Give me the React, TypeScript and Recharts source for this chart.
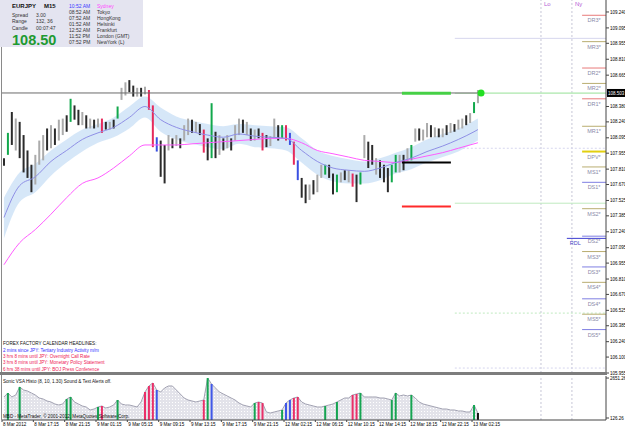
import React from 'react';
import { ComposedChart, Bar, Line, Area, XAxis, YAxis, ReferenceLine, ReferenceDot, Cell } from 'recharts';

const FONT = '"Liberation Sans", Arial, sans-serif';

// EURJPY bars (high / low)
const barHigh = [
  107.91, 108.14, 108.33, 108.27, 108.24, 108.12, 107.98, 107.85, 107.94, 108.07,
  108.12, 108.18, 108.21, 108.18, 108.26, 108.27, 108.30, 108.45, 108.39, 108.35,
  108.33, 108.30, 108.27, 108.26, 108.27, 108.27, 108.24, 108.24, 108.26, 108.38,
  108.55, 108.60, 108.62, 108.57, 108.55, 108.55, 108.56, 108.53, 108.39, 108.10,
  108.07, 108.03, 108.12, 108.09, 108.12, 108.09, 108.21, 108.27, 108.26, 108.24,
  108.22, 108.17, 108.09, 108.41, 108.15, 108.12, 108.09, 108.12, 108.09, 108.21,
  108.27, 108.26, 108.24, 108.18, 108.17, 108.18, 108.14, 108.12, 108.11, 108.27,
  108.21, 108.21, 108.21, 108.14, 108.06, 107.89, 107.73, 107.67, 107.67, 107.71,
  107.76, 107.85, 107.85, 107.85, 107.77, 107.76, 107.78, 107.80, 107.80, 107.77,
  107.76, 107.78, 108.12, 108.06, 108.03, 107.91, 107.89, 107.85, 107.82, 107.85,
  107.94, 107.94, 107.94, 108.00, 108.03, 108.18, 108.18, 108.17, 108.23, 108.21,
  108.19, 108.18, 108.18, 108.21, 108.23, 108.22, 108.26, 108.27, 108.30, 108.32,
  108.42, 108.53,
];
const barLow = [
  107.84, 107.94, 108.03, 107.98, 107.91, 107.78, 107.73, 107.60, 107.67, 107.85,
  107.89, 107.98, 108.00, 108.03, 108.07, 108.12, 108.15, 108.24, 108.26, 108.21,
  108.21, 108.18, 108.18, 108.18, 108.19, 108.14, 108.17, 108.17, 108.18, 108.27,
  108.44, 108.48, 108.51, 108.47, 108.47, 108.47, 108.49, 108.35, 108.01, 107.97,
  107.74, 107.68, 107.98, 108.00, 108.02, 108.00, 108.07, 108.12, 108.14, 108.14,
  108.12, 107.96, 107.89, 107.91, 107.91, 107.94, 107.98, 108.00, 107.98, 108.07,
  108.12, 108.14, 108.12, 108.07, 108.07, 108.09, 107.98, 108.01, 108.02, 108.09,
  108.07, 108.09, 108.07, 108.03, 107.85, 107.71, 107.55, 107.50, 107.53, 107.58,
  107.60, 107.73, 107.76, 107.73, 107.58, 107.60, 107.69, 107.71, 107.69, 107.65,
  107.51, 107.67, 107.91, 107.82, 107.85, 107.76, 107.73, 107.69, 107.60, 107.69,
  107.78, 107.78, 107.80, 107.88, 107.89, 108.06, 108.07, 108.07, 108.10, 108.10,
  108.10, 108.10, 108.10, 108.12, 108.14, 108.15, 108.17, 108.18, 108.21, 108.23,
  108.32, 108.41,
];
// k = down bar, w = up bar, G / R / B = highlighted bars
const barTone =
  'kGkwkkkkww' + 'wkwkwwkGkk' + 'wkwkwRkwkG' + 'wwkkwkwRRB' + 'kkwkwkwwkw' + 'kRkGkwkwkw' +
  'wkwkwkRkww' + 'kGRBRBkkwk' + 'wwGkkGwkwR' + 'kGwkkwkkkG' + 'GwkwGwkwwk' + 'wkwkwkwwkw' + 'Gw';

// moving averages and envelope, read every 4th bar
const maBars = [0, 4, 8, 12, 16, 20, 24, 28, 32, 36, 40, 44, 48, 52, 56, 60, 64, 68, 72, 76, 80, 84, 88, 92, 96, 100, 104, 108, 112, 116, 120, 121];
const maFast = [
  107.37, 107.66, 107.74, 107.88, 107.98, 108.08, 108.14, 108.19, 108.28, 108.38, 108.26, 108.19, 108.15, 108.12, 108.10, 108.13,
  108.11, 108.10, 108.09, 107.98, 107.88, 107.82, 107.80, 107.79, 107.82, 107.87, 107.91, 107.97, 108.02, 108.08, 108.15, 108.17,
];
const bandTop = [
  107.55, 107.78, 107.86, 107.98, 108.08, 108.17, 108.22, 108.28, 108.38, 108.47, 108.37, 108.29, 108.25, 108.22, 108.20, 108.22,
  108.21, 108.20, 108.19, 108.09, 107.98, 107.93, 107.90, 107.88, 107.91, 107.96, 108.01, 108.08, 108.13, 108.18, 108.25, 108.27,
];
const bandBottom = [
  107.18, 107.51, 107.60, 107.75, 107.87, 107.97, 108.05, 108.10, 108.18, 108.28, 108.15, 108.08, 108.04, 108.01, 107.99, 108.04,
  108.01, 108.00, 107.98, 107.87, 107.76, 107.70, 107.68, 107.68, 107.71, 107.77, 107.81, 107.87, 107.92, 107.97, 108.05, 108.07,
];
const maSlow = [
  106.94, 107.14, 107.26, 107.40, 107.55, 107.68, 107.73, 107.82, 107.93, 108.03, 108.03, 108.03, 108.04, 108.05, 108.06, 108.07,
  108.08, 108.09, 108.09, 108.05, 107.98, 107.95, 107.92, 107.89, 107.88, 107.87, 107.90, 107.93, 107.96, 108.00, 108.04, 108.05,
];

// Sonic VSA histogram
const vsaVolume = [
  1454, 1706, 1454, 1580, 2086, 1896, 1833, 1706, 1580, 1390,
  1327, 1201, 1138, 1011, 948, 1011, 1327, 1454, 1138, 1011,
  885, 822, 632, 695, 822, 885, 758, 822, 948, 1264,
  1011, 948, 948, 885, 822, 1138, 1770, 2149, 2338, 1896,
  1770, 2022, 2149, 2149, 1896, 1643, 1390, 1264, 1201, 1138,
  1201, 1264, 2651, 2275, 2022, 1770, 1643, 1517, 1390, 1264,
  1074, 948, 885, 822, 1074, 1138, 1074, 506, 442, 506,
  569, 632, 1074, 1264, 1390, 1454, 1138, 1011, 948, 885,
  822, 822, 885, 948, 1011, 1138, 1264, 1390, 1390, 1580,
  1643, 1706, 1454, 1454, 1454, 1454, 1390, 1390, 1327, 1264,
  1706, 1517, 1580, 1517, 1580, 1390, 1138, 1011, 948, 885,
  822, 758, 695, 695, 632, 632, 569, 569, 506, 506,
  948, 442,
];
const vsaTone =
  '.G..G.....' + '......GG..' + '....GR...G' + '......RRRB' + '..........' + '.RGB......' +
  '....GRR...' + '.GBBRR....' + '..G..G...R' + 'RG.......G' + 'G...G.....' + '..........' + 'Gk';

// 108.525 sits under the bid box, so it is left out
const priceTicks = [
  109.24, 109.095, 108.955, 108.81, 108.665, 108.38, 108.24, 108.095, 107.955, 107.81, 107.67,
  107.525, 107.385, 107.24, 107.095, 106.955, 106.81, 106.67, 106.525, 106.385, 106.24, 106.1, 105.955,
];
const vsaTicks = [126.26, 2651.26];
const timeTickBars = [0, 8, 16, 24, 32, 40, 48, 56, 64, 72, 80, 88, 96, 104, 112, 120];
const timeLabels = [
  '8 Mar 2012', '8 Mar 17:15', '8 Mar 21:15', '9 Mar 01:15', '9 Mar 05:15', '9 Mar 09:15', '9 Mar 13:15', '9 Mar 17:15',
  '9 Mar 21:15', '12 Mar 02:15', '12 Mar 06:15', '12 Mar 10:15', '12 Mar 14:15', '12 Mar 18:15', '12 Mar 22:15', '13 Mar 02:15',
];

const pivotNames = ['DR3*', 'MR3*', 'DR2*', 'MR2*', 'DR1*', 'MR1*', 'DPV*', 'MS1*', 'DS1*', 'MS2*', 'DS2*', 'MS3*', 'DS3*', 'MS4*', 'DS4*', 'MS5*', 'DS5*'];
const pivotPrices = [109.21, 108.97, 108.73, 108.59, 108.45, 108.2, 107.97, 107.83, 107.69, 107.45, 107.2, 107.06, 106.92, 106.78, 106.63, 106.49, 106.35];
const rdlPrice = 107.18;
const roundLevels = [109.0, 108.5, 108.0, 107.5, 106.5, 106.0];
const roundGreen = [false, true, false, true, true, false];
const roundDotted = [false, false, true, false, true, true];
const sessionNames = ['Lo', 'Ny'];
const sessionBars = [137.6, 145.5];
const bidPrice = 108.503;
const signalLevels = [108.5, 107.87, 107.47];
const signalColors = ['#46d046', '#000000', '#ff2a2a'];

const sessions = [
  { time: '10:52 AM', city: 'Sydney' },
  { time: '08:52 AM', city: 'Tokyo' },
  { time: '07:52 AM', city: 'HongKong' },
  { time: '01:52 AM', city: 'Helsinki' },
  { time: '12:52 AM', city: 'Frankfurt' },
  { time: '11:52 PM', city: 'London (GMT)' },
  { time: '07:52 PM', city: 'NewYork (L)' },
];
const headlines = [
  '2 mins since JPY: Tertiary Industry Activity m/m',
  '3 hrs 8 mins until JPY: Overnight Call Rate',
  '3 hrs 8 mins until JPY: Monetary Policy Statement',
  '6 hrs 38 mins until JPY: BOJ Press Conference',
];

// layout in bar units
const X_MAX = 154.2;
const NOW = 122.3;
const DAY_START = 115.6;
const PIVOT_FROM = 148.1;
const RDL_FROM = 144.2;
const SIGNAL_FROM = 102.1;
const SIGNAL_TO = 114.6;

const toneColor: Record<string, string> = { k: '#2b2b2b', w: '#ababab', G: '#12a84c', R: '#e62a5c', B: '#3a50e2' };
const vsaColor: Record<string, string> = { k: '#111111', G: '#16a452', R: '#ea2f68', B: '#4058e8' };

const rows = barHigh.map((h, i) => {
  const k = maBars.indexOf(i);
  return {
    u: i + 0.5,
    hl: [barLow[i], h],
    fast: k >= 0 ? maFast[k] : null,
    slow: k >= 0 ? maSlow[k] : null,
    band: k >= 0 ? [bandBottom[k], bandTop[k]] : null,
    vol: vsaVolume[i],
    hit: vsaTone[i] !== '.' ? vsaVolume[i] : null,
  };
});

const pivotColor = (name: string) => {
  if (name.startsWith('DR')) return '#e87a7a';
  if (name.startsWith('DS')) return '#7f7fe2';
  if (name.startsWith('DPV')) return '#e2cf10';
  return '#b9ad70';
};

const PivotLabel = ({ viewBox, text }: any) => (
  <text x={viewBox.x + viewBox.width / 2} y={viewBox.y + 7} textAnchor="middle" fontSize={5.5} fill="#8a8aa8" fontFamily={FONT}>
    {text}
  </text>
);

const RdlLabel = ({ viewBox }: any) => (
  <text x={viewBox.x + 3} y={viewBox.y + 7} fontSize={5.5} fill="#4444c4" fontFamily={FONT}>
    RDL
  </text>
);

const SessionLabel = ({ viewBox, text }: any) => (
  <text x={viewBox.x + 3} y={viewBox.y + 6} fontSize={6} fill="#b45cd6" fontFamily={FONT}>
    {text}
  </text>
);

const BidLabel = ({ viewBox }: any) => (
  <g>
    <rect x={viewBox.x + viewBox.width + 1} y={viewBox.y - 4} width={19} height={8} fill="#000" />
    <text x={viewBox.x + viewBox.width + 2} y={viewBox.y + 2} fontSize={4.5} fill="#fff" fontFamily={FONT}>
      {bidPrice.toFixed(3)}
    </text>
  </g>
);

const TimeTick = ({ x, y, payload }: any) => (
  <text x={x + 1} y={y + 3.6} fontSize={4.6} fill="#000" fontFamily={FONT}>
    {timeLabels[timeTickBars.indexOf(payload.value)]}
  </text>
);

const axisTick = { fontSize: 4.5, fill: '#000', fontFamily: FONT };

export default function App() {
  return (
    <div style={{ position: 'fixed', left: 0, top: 0, width: 625, height: 429, background: '#fff', overflow: 'hidden' }}>
      <div style={{ position: 'absolute', left: 0, top: 0 }}>
        <ComposedChart width={625} height={378} data={rows} margin={{ top: 0, right: 0, bottom: 5, left: 2 }}>
          <XAxis dataKey="u" type="number" domain={[0, X_MAX]} allowDataOverflow hide />
          <YAxis
            orientation="right"
            width={19}
            domain={[105.955, 109.349]}
            allowDataOverflow
            ticks={priceTicks}
            interval={0}
            tickFormatter={(v: number) => v.toFixed(3)}
            tick={axisTick}
            tickSize={3}
            tickMargin={1}
            axisLine={{ stroke: '#444' }}
            tickLine={{ stroke: '#444' }}
          />
          {sessionBars.map((b, i) => (
            <ReferenceLine key={sessionNames[i]} x={b} stroke="#c6c6d6" strokeDasharray="2 2" label={<SessionLabel text={sessionNames[i]} />} />
          ))}
          {roundLevels.map((p, i) => (
            <ReferenceLine
              key={'r' + p}
              segment={[{ x: DAY_START, y: p }, { x: X_MAX, y: p }]}
              stroke={roundGreen[i] ? '#bfeabf' : '#d6d6ee'}
              strokeDasharray={roundDotted[i] ? '2 2' : undefined}
            />
          ))}
          <Area dataKey="band" type="monotone" connectNulls fill="#cfe3f7" fillOpacity={0.85} stroke="none" isAnimationActive={false} />
          <Line dataKey="slow" type="monotone" connectNulls stroke="#ff5cff" strokeWidth={1} dot={false} isAnimationActive={false} />
          <Line dataKey="fast" type="monotone" connectNulls stroke="#8f8fe6" strokeWidth={1} dot={false} isAnimationActive={false} />
          <ReferenceLine segment={[{ x: 0, y: bidPrice }, { x: NOW, y: bidPrice }]} stroke="#6a6a6a" />
          <Bar dataKey="hl" barSize={2} isAnimationActive={false}>
            {rows.map((r, i) => (
              <Cell key={i} fill={toneColor[barTone[i]]} />
            ))}
          </Bar>
          <ReferenceLine segment={[{ x: NOW, y: bidPrice }, { x: X_MAX, y: bidPrice }]} stroke="#b8ecb8" label={<BidLabel />} />
          {signalLevels.map((p, i) => (
            <ReferenceLine
              key={'s' + p}
              segment={[{ x: SIGNAL_FROM, y: p }, { x: SIGNAL_TO, y: p }]}
              stroke={signalColors[i]}
              strokeWidth={i === 0 ? 3 : 2}
            />
          ))}
          {pivotNames.map((n, i) => (
            <ReferenceLine
              key={n}
              segment={[{ x: PIVOT_FROM, y: pivotPrices[i] }, { x: X_MAX, y: pivotPrices[i] }]}
              stroke={pivotColor(n)}
              strokeWidth={n === 'DPV*' ? 2 : 1}
              label={<PivotLabel text={n} />}
            />
          ))}
          <ReferenceLine segment={[{ x: RDL_FROM, y: rdlPrice }, { x: X_MAX, y: rdlPrice }]} stroke="#3c3cd0" label={<RdlLabel />} />
          <ReferenceDot x={NOW} y={bidPrice} r={3.5} fill="#22e022" stroke="none" />
        </ComposedChart>
      </div>

      <div style={{ position: 'absolute', left: 0, top: 374 }}>
        <ComposedChart width={625} height={55} data={rows} margin={{ top: 2, right: 0, bottom: 0, left: 2 }}>
          <defs>
            <pattern id="vsaDots" width="3" height="3" patternUnits="userSpaceOnUse">
              <rect width="3" height="3" fill="#e3e3ea" />
              <rect x="1" y="1" width="1" height="1" fill="#ffffff" />
            </pattern>
          </defs>
          <XAxis
            dataKey="u"
            type="number"
            domain={[0, X_MAX]}
            allowDataOverflow
            ticks={timeTickBars}
            interval={0}
            height={9}
            tick={<TimeTick />}
            tickSize={2}
            tickMargin={0}
            axisLine={{ stroke: '#444' }}
            tickLine={{ stroke: '#444' }}
          />
          <YAxis
            orientation="right"
            width={19}
            domain={[0, 2780]}
            allowDataOverflow
            ticks={vsaTicks}
            interval={0}
            tickFormatter={(v: number) => v.toFixed(2)}
            tick={axisTick}
            tickSize={3}
            tickMargin={1}
            axisLine={{ stroke: '#444' }}
            tickLine={{ stroke: '#444' }}
          />
          {sessionBars.map((b) => (
            <ReferenceLine key={'v' + b} x={b} stroke="#c6c6d6" strokeDasharray="2 2" />
          ))}
          <Area dataKey="vol" type="linear" fill="url(#vsaDots)" fillOpacity={1} stroke="#a2a2b2" strokeWidth={1} isAnimationActive={false} />
          <Bar dataKey="hit" barSize={2} isAnimationActive={false}>
            {rows.map((r, i) => (
              <Cell key={i} fill={vsaColor[vsaTone[i]] || 'none'} />
            ))}
          </Bar>
        </ComposedChart>
      </div>

      <svg width={625} height={429} style={{ position: 'absolute', left: 0, top: 0, pointerEvents: 'none' }} fontFamily={FONT}>
        <line x1={1.5} y1={0} x2={1.5} y2={420} stroke="#8a8a8a" />
        <rect x={0} y={372} width={607} height={3} fill="#7d7d7d" />
        <rect x={0} y={0} width={143} height={47} fill="#e4e4f0" />
        <text x={12} y={8.3} fontSize={6} fontWeight="bold" fill="#111">EURJPY</text>
        <text x={44} y={8.3} fontSize={6} fontWeight="bold" fill="#111">M15</text>
        <text x={12} y={16.6} fontSize={5} fill="#333">Spread</text>
        <text x={36} y={16.6} fontSize={5} fill="#333">3.00</text>
        <text x={12} y={22.6} fontSize={5} fill="#333">Range</text>
        <text x={36} y={22.6} fontSize={5} fill="#333">132, 36</text>
        <text x={12} y={30.2} fontSize={5} fill="#333">Candle</text>
        <text x={36} y={30.2} fontSize={5} fill="#333">00:07:47</text>
        <text x={12} y={44.5} fontSize={14.5} fontWeight="bold" fill="#1e9a32">108.50</text>
        {sessions.map((s, i) => (
          <g key={s.city}>
            <text x={69} y={7.8 + i * 6} fontSize={5} fill={i === 0 ? '#3a3aff' : '#333'}>{s.time}</text>
            <text x={97} y={7.8 + i * 6} fontSize={5} fill={i === 0 ? '#ff44ff' : '#333'}>{s.city}</text>
          </g>
        ))}
        <text x={3} y={344.8} fontSize={4.6} fill="#111">FOREX FACTORY CALENDAR HEADLINES:</text>
        {headlines.map((h, i) => (
          <text key={h} x={3} y={351.6 + i * 6.4} fontSize={4.6} fill={i === 0 ? '#3030ff' : '#ee2255'}>{h}</text>
        ))}
        <text x={3} y={382.8} fontSize={4.6} fill="#111">Sonic VSA Histo (8, 10, 1.30)   Sound &amp; Text Alerts off.</text>
        <text x={3} y={417.8} fontSize={4.6} fill="#111">MBD - MetaTrader, © 2001-2012, MetaQuotes Software Corp.</text>
      </svg>
    </div>
  );
}
